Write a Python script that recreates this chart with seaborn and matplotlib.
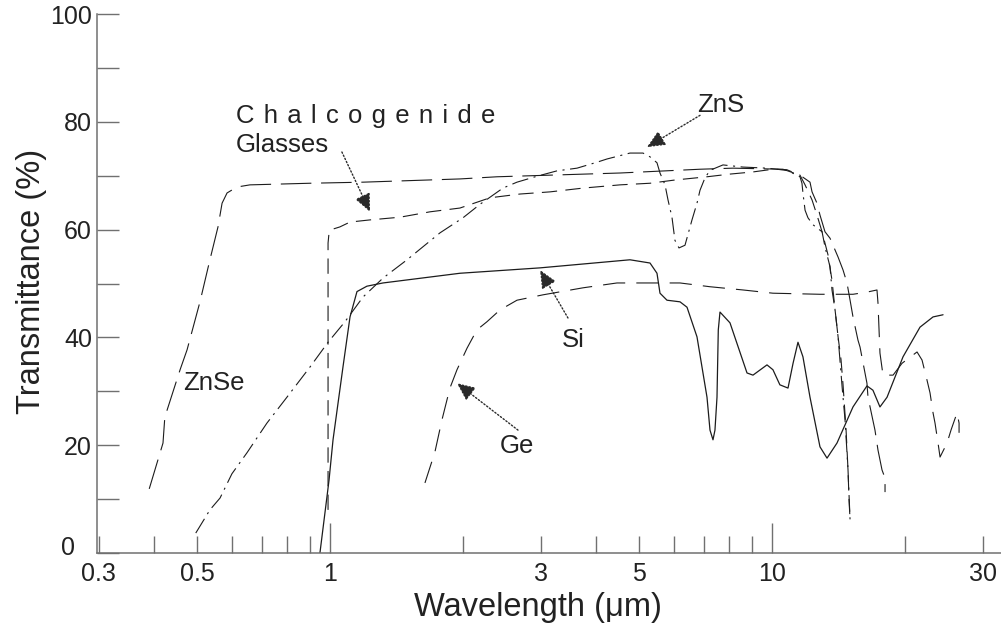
import matplotlib
matplotlib.use("Agg")
import matplotlib.pyplot as plt
import seaborn as sns
from matplotlib.ticker import FixedLocator, FixedFormatter

# ---------------- data (wavelength in um, transmittance in %) ----------------
znse_x = [0.39, 0.419, 0.423, 0.458, 0.475, 0.508, 0.535, 0.558, 0.570, 0.585,
          0.616, 0.659, 0.901, 1.188, 1.968, 2.387, 4.53, 6.873, 8.162, 10.59,
          11.57, 12.19, 12.32, 12.64, 12.84, 13.18, 13.53, 14.11, 14.48, 14.78,
          15.02, 15.25, 15.65, 15.82, 16.40, 16.49, 17.10, 17.37, 17.74, 18.02, 18.02]
znse_y = [11.9, 20.4, 25.2, 34.0, 37.7, 46.6, 54.4, 60.5, 64.9, 66.8,
          67.9, 68.3, 68.6, 68.8, 69.4, 69.8, 70.5, 71.2, 71.4, 71.2,
          70.1, 68.8, 67.0, 64.9, 62.7, 59.6, 58.4, 54.9, 52.5, 50.1,
          46.9, 43.8, 39.5, 38.2, 31.5, 28.9, 22.8, 19.1, 15.4, 13.9, 11.3]

chalco_x = [0.99, 0.99, 0.995, 1.016, 1.053, 1.11, 1.232, 1.44, 1.684, 1.968,
            2.301, 2.691, 3.147, 3.737, 4.53, 5.297, 6.032, 7.128, 8.035, 9.058,
            10.05, 10.81, 11.57, 11.88, 12.32, 12.64, 12.98, 13.39, 13.67, 13.89,
            14.11, 14.33, 14.48, 14.71, 14.86, 14.94, 15.02]
chalco_y = [8.0, 57.5, 59.4, 60.1, 60.5, 61.4, 61.8, 62.3, 63.3, 64.0,
            65.9, 66.6, 67.0, 67.7, 68.3, 68.6, 69.2, 69.8, 70.3, 70.7,
            71.2, 71.1, 70.1, 68.3, 65.5, 62.7, 59.6, 55.3, 50.6, 45.1,
            40.1, 35.8, 31.2, 22.8, 15.4, 9.8, 6.1]

zns_x = [0.497, 0.535, 0.564, 0.600, 0.649, 0.720, 0.799, 0.901, 0.990, 1.081,
         1.188, 1.318, 1.494, 1.774, 2.000, 2.185, 2.462, 2.649, 2.940, 3.263,
         3.622, 4.018, 4.233, 4.772, 5.107, 5.297, 5.493, 5.580, 5.728, 5.818,
         5.939, 6.032, 6.160, 6.356, 6.592, 6.766, 6.873, 7.054, 7.240, 7.747,
         8.599, 9.743, 10.81, 11.57, 11.69, 11.75, 11.88, 12.06, 12.38, 12.98,
         13.18, 13.53, 13.67, 13.89, 14.11, 14.41, 14.63, 14.86, 15.02]
zns_y = [3.7, 8.0, 10.2, 14.7, 18.6, 24.1, 28.9, 34.5, 39.1, 42.9,
         47.5, 51.0, 54.4, 59.4, 62.2, 64.7, 67.7, 68.8, 69.9, 70.9,
         71.4, 72.5, 73.1, 74.2, 74.2, 73.5, 72.4, 70.5, 68.3, 65.5,
         62.3, 58.0, 56.6, 57.1, 61.8, 64.9, 67.3, 69.6, 71.0, 72.0,
         71.6, 71.4, 71.0, 69.8, 68.6, 66.8, 63.6, 62.2, 60.9, 59.6,
         56.8, 53.1, 48.8, 45.1, 40.1, 30.8, 24.7, 15.4, 6.1]

si_x = [0.949, 0.995, 1.016, 1.070, 1.110, 1.151, 1.212, 1.318, 1.968, 2.987,
        4.772, 5.297, 5.493, 5.58, 5.787, 6.193, 6.423, 6.766, 7.128, 7.24,
        7.354, 7.43, 7.509, 7.56, 7.627, 8.035, 8.78, 9.058, 9.743, 10.05,
        10.42, 10.87, 11.16, 11.45, 11.75, 12.19, 12.84, 13.32, 14.03, 15.25,
        16.4, 16.92, 17.55, 18.21, 19.79, 21.62, 23.14, 24.38]
si_y = [0.0, 13.5, 21.0, 34.5, 43.8, 48.5, 49.5, 50.1, 51.9, 52.9,
        54.4, 53.8, 51.9, 48.2, 46.9, 46.6, 45.6, 40.1, 28.9, 22.8,
        21.0, 22.8, 28.9, 41.4, 44.7, 42.7, 33.4, 33.0, 34.9, 34.0,
        31.2, 30.6, 35.2, 39.1, 36.4, 28.9, 19.7, 17.6, 20.4, 27.1,
        31.0, 30.2, 27.1, 28.9, 36.4, 41.9, 43.8, 44.2]

ge_x = [1.64, 1.727, 1.792, 1.868, 1.938, 2.042, 2.15, 2.265, 2.425, 2.649,
        3.034, 3.737, 4.46, 5.297, 6.193, 7.24, 8.599, 10.05, 12.84, 15.25,
        16.4, 17.28, 17.37, 17.55, 17.83, 18.79, 19.69, 21.29, 21.85, 22.42,
        22.78, 23.14, 23.38, 23.75, 24.0, 24.89, 25.41, 26.22, 26.5, 26.5]
ge_y = [13.0, 18.7, 24.7, 30.6, 34.0, 38.0, 41.4, 42.9, 45.1, 46.9,
        47.9, 49.2, 50.1, 50.1, 50.1, 49.4, 48.8, 48.2, 48.0, 48.0,
        48.4, 48.8, 46.4, 37.1, 33.0, 33.0, 35.2, 37.3, 35.8, 32.1,
        29.7, 26.0, 24.1, 20.4, 17.8, 20.4, 22.8, 26.0, 24.1, 22.3]

x_major_ticks = [1, 10]
x_major_labels = ["1", "10"]
x_minor_ticks = [0.3, 0.4, 0.5, 0.6, 0.7, 0.8, 0.9, 2, 3, 4, 5, 6, 7, 8, 9, 20, 30]
x_minor_labels = ["0.3", "", "0.5", "", "", "", "", "", "3", "", "5", "", "", "", "", "", "30"]
y_major_ticks = [0, 20, 40, 60, 80, 100]
y_major_labels = ["", "20", "40", "60", "80", "100"]   # "0" drawn separately (offset as in original)
y_minor_ticks = [10, 30, 50, 70, 90]

# ---------------- style ----------------
sns.set_style("ticks")
plt.rcParams["font.family"] = ["Liberation Sans", "DejaVu Sans"]
plt.rcParams["lines.scale_dashes"] = False

line_col = "#1c1c1c"
axis_col = "#707070"
text_col = "#222222"

fig = plt.figure(figsize=(10.01, 6.28), dpi=100)
ax = fig.add_axes([97 / 1001, 75 / 628, 904 / 1001, 539 / 628])

series = [
    (znse_x, znse_y, (0, (22, 7))),
    (chalco_x, chalco_y, (0, (11, 6))),
    (zns_x, zns_y, (0, (12, 4, 1.5, 4))),
    (si_x, si_y, "-"),
    (ge_x, ge_y, (0, (16, 8))),
]
for xs, ys, ls in series:
    sns.lineplot(x=xs, y=ys, sort=False, estimator=None, ax=ax,
                 color=line_col, lw=0.9 if ls == "-" else 0.8)
    ax.lines[-1].set_linestyle(ls)

ax.set_xscale("log")
ax.set_xlim(0.2971, 32.97)
ax.set_ylim(0, 100)

ax.xaxis.set_major_locator(FixedLocator(x_major_ticks))
ax.xaxis.set_major_formatter(FixedFormatter(x_major_labels))
ax.xaxis.set_minor_locator(FixedLocator(x_minor_ticks))
ax.xaxis.set_minor_formatter(FixedFormatter(x_minor_labels))
ax.yaxis.set_major_locator(FixedLocator(y_major_ticks))
ax.yaxis.set_major_formatter(FixedFormatter(y_major_labels))
ax.yaxis.set_minor_locator(FixedLocator(y_minor_ticks))

ax.tick_params(axis="x", which="major", direction="in", length=21.6, width=1.0,
               color=axis_col, pad=6.5, labelsize=18, labelcolor=text_col)
ax.tick_params(axis="x", which="minor", direction="in", length=12.5, width=1.0,
               color=axis_col, pad=6.5, labelsize=18, labelcolor=text_col)
ax.tick_params(axis="y", which="both", direction="in", length=16, width=1.0,
               color=axis_col, pad=3.6, labelsize=18, labelcolor=text_col)

# the "0" of the y axis sits a little left of the others in the original
ax.text(-0.0243, 0.0102, "0", transform=ax.transAxes, fontsize=18,
        color=text_col, ha="right", va="center")

for side in ("top", "right"):
    ax.spines[side].set_visible(False)
for side in ("left", "bottom"):
    ax.spines[side].set_color(axis_col)
    ax.spines[side].set_linewidth(1.1)

ax.set_xlabel("Wavelength (μm)", fontsize=23.5, color=text_col)
ax.set_ylabel("Transmittance (%)", fontsize=23.5, color=text_col)
ax.xaxis.set_label_coords(0.488, -0.072)
ax.yaxis.set_label_coords(-0.055, 0.503)

# ---------------- annotations ----------------
fs = 18.5
spaced = " \u200a".join("Chalcogenide")
ax.text(0.613, 79.8, spaced, fontsize=fs, color=text_col, va="baseline", ha="left")
ax.text(0.613, 74.4, "Glasses", fontsize=fs, color=text_col, va="baseline", ha="left")
ax.text(0.465, 30.2, "ZnSe", fontsize=fs, color=text_col, va="baseline", ha="left")
ax.text(3.35, 38.2, "Si", fontsize=fs, color=text_col, va="baseline", ha="left")
ax.text(2.425, 18.6, "Ge", fontsize=fs, color=text_col, va="baseline", ha="left")
ax.text(6.77, 81.8, "ZnS", fontsize=fs, color=text_col, va="baseline", ha="left")

arrow_kw = dict(arrowstyle="-|>,head_length=1.0,head_width=0.45",
                color="#2a2a2a", lw=1.0, linestyle=(0, (1, 1.5)),
                shrinkA=0, shrinkB=0, mutation_scale=11)
arrows = [
    ((5.214, 75.3), (6.873, 81.2)),   # ZnS
    ((1.232, 63.3), (1.064, 74.4)),   # Chalcogenide glasses
    ((2.987, 52.5), (3.455, 43.6)),   # Si
    ((1.938, 31.5), (2.663, 22.8)),   # Ge
]
for head, tail in arrows:
    ax.annotate("", xy=head, xytext=tail, arrowprops=arrow_kw)

fig.savefig("out.png", dpi=100)
